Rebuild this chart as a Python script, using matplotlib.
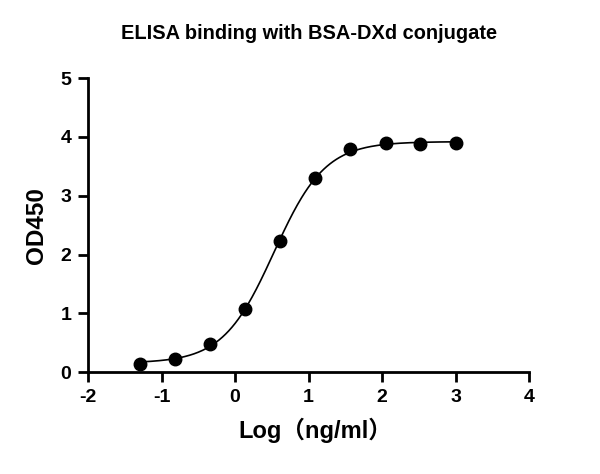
import numpy as np
import matplotlib
matplotlib.use('Agg')
import matplotlib.pyplot as plt

plt.rcParams['font.family'] = ['Liberation Sans', 'Noto Sans CJK SC', 'DejaVu Sans']
plt.rcParams['font.weight'] = 'bold'
plt.rcParams['axes.unicode_minus'] = False

# log10 concentration (ng/ml) and OD450
log_conc = [-1.29, -0.82, -0.34, 0.14, 0.61, 1.09, 1.57, 2.05, 2.52, 3.00]
od450 = [0.14, 0.23, 0.48, 1.08, 2.23, 3.30, 3.79, 3.89, 3.88, 3.89]

title = 'ELISA binding with BSA-DXd conjugate'
xlab = 'Log\uff08ng/ml\uff09'
ylab = 'OD450'


def four_pl(x, p):
    bottom, top, logec50, hill = p
    return bottom + (top - bottom) / (1 + 10 ** ((logec50 - x) * hill))


def fit_4pl(x, y):
    # small Levenberg-Marquardt fit, numpy only
    p = np.array([y.min(), y.max(), np.median(x), 1.0])
    lam = 1e-2
    for _ in range(500):
        r = y - four_pl(x, p)
        J = np.zeros((x.size, 4))
        for k in range(4):
            dp = np.zeros(4)
            dp[k] = 1e-6
            J[:, k] = (four_pl(x, p + dp) - four_pl(x, p - dp)) / 2e-6
        A = J.T @ J
        step = np.linalg.solve(A + lam * np.diag(np.diag(A)), J.T @ r)
        pn = p + step
        if np.sum((y - four_pl(x, pn)) ** 2) < np.sum(r ** 2):
            p = pn
            lam *= 0.5
        else:
            lam *= 4
    return p


x = np.array(log_conc)
y = np.array(od450)
params = fit_4pl(x, y)
xs = np.linspace(x.min(), x.max(), 300)

fig = plt.figure(figsize=(6, 4.74), dpi=100)
ax = fig.add_axes([0.1467, 0.215, 0.735, 0.62])

ax.plot(xs, four_pl(xs, params), color='black', lw=1.2, zorder=2)
ax.plot(x, y, 'o', color='black', ms=9, zorder=3)

ax.set_xlim(-2, 4)
ax.set_ylim(0, 5)
ax.set_xticks(range(-2, 5))
ax.set_yticks(range(0, 6))

for s in ['top', 'right']:
    ax.spines[s].set_visible(False)
for s in ['left', 'bottom']:
    ax.spines[s].set_linewidth(2)
ax.tick_params(width=2, length=7, labelsize=14, pad=5)
for lbl in ax.get_xticklabels() + ax.get_yticklabels():
    lbl.set_fontweight('bold')

ax.set_xlabel(xlab, fontsize=17, fontweight='bold')
ax.xaxis.set_label_coords(0.515, -0.155)
ax.set_ylabel(ylab, fontsize=17.5, fontweight='bold', labelpad=9)
fig.text(0.515, 0.93, title, ha='center', va='center', fontsize=14.4, fontweight='bold')

fig.savefig('out.png', dpi=100)
